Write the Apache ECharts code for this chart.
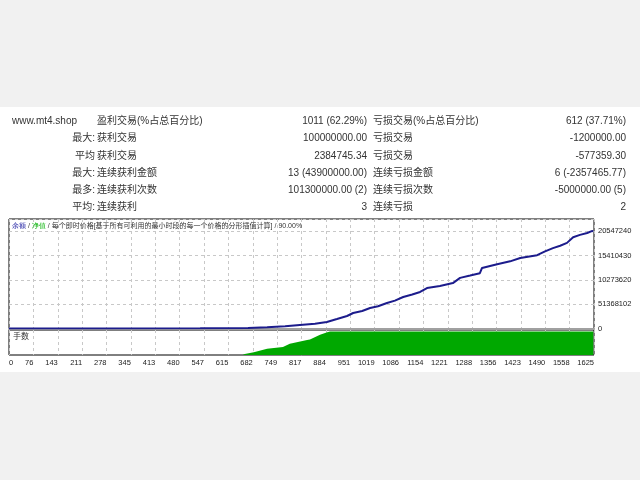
<!DOCTYPE html>
<html>
<head>
<meta charset="utf-8">
<script src="https://cdn.jsdelivr.net/npm/echarts@6/dist/echarts.min.js"></script>
<style>
html,body{margin:0;padding:0;width:640px;height:480px;overflow:hidden;
background:linear-gradient(#f1f1f1 0,#f1f1f1 107px,#ffffff 107px,#ffffff 372px,#f1f1f1 372px);}
#c{width:640px;height:480px;}
</style>
</head>
<body>
<div id="c"></div>
<script>
// ---- data ----
var xTickLabels = ['0','76','143','211','278','345','413','480','547','615','682','749','817','884','951','1019','1086','1154','1221','1288','1356','1423','1490','1558','1625'];
var yTickLabels = ['0','51368102','10273620','15410430','20547240'];
var yTickStep = 5136810;
var balanceTrades = [0,253,531,664,717,767,808,850,883,911,939,956,981,1003,1025,1050,1072,1095,1120,1142,1161,1197,1233,1253,1281,1308,1314,1356,1392,1420,1467,1489,1511,1531,1550,1567,1586,1606,1617,1623];
var balanceValues = [10000,20000,50000,130000,280000,480000,740000,1000000,1370000,2000000,2640000,3280000,3700000,4330000,4700000,5390000,5900000,6660000,7200000,7720000,8560000,9000000,9600000,10700000,11200000,11700000,12800000,13600000,14200000,14900000,15500000,16300000,17000000,17500000,18100000,19300000,19800000,20200000,20550000,20600000];
var lotTrades = [0,649,655,680,717,761,780,828,836,864,884,892,1623];
var lotValues = [0,0,2,6,13,17,24,32,33,43,48,50,50];
var rowPrefix = ['www.mt4.shop','最大:','平均','最大:','最多:','平均:'];
var col1Labels = ['盈利交易(%占总百分比)','获利交易','获利交易','连续获利金额','连续获利次数','连续获利'];
var col1Values = ['1011 (62.29%)','100000000.00','2384745.34','13 (43900000.00)','101300000.00 (2)','3'];
var col2Labels = ['亏损交易(%占总百分比)','亏损交易','亏损交易','连续亏损金额','连续亏损次数','连续亏损'];
var col2Values = ['612 (37.71%)','-1200000.00','-577359.30','6 (-2357465.77)','-5000000.00 (5)','2'];
var chartTitleParts = ['余额','净值','每个即时价格[基于所有可利用的最小时段的每一个价格的分形插值计算] / 90.00%'];
var lotPanelLabel = '手数';

// ---- build ----
var FONT = "'Liberation Sans','Noto Sans CJK SC',sans-serif";
var NUMFONT = "'Liberation Sans',sans-serif";
var xMax = 1625, xInterval = xMax / 24;
var rowY = [121,138,156,173,190,207];

function txt(text, x, y, align){
  return {type:'text', x:x, y:y, silent:true,
    style:{text:text, fill:'#333', font:'10px ' + FONT,
      align:align, verticalAlign:'middle', textAlign:align, textVerticalAlign:'middle'}};
}
var g = [];
for (var i = 0; i < rowY.length; i++) {
  if (i === 0) g.push(txt(rowPrefix[i], 12, rowY[i], 'left'));
  else g.push(txt(rowPrefix[i], 95, rowY[i], 'right'));
  g.push(txt(col1Labels[i], 97, rowY[i], 'left'));
  g.push(txt(col1Values[i], 367, rowY[i], 'right'));
  g.push(txt(col2Labels[i], 373, rowY[i], 'left'));
  g.push(txt(col2Values[i], 626, rowY[i], 'right'));
}
g.push({type:'text', x:12, y:226, silent:true, z:10,
  style:{text:'{a|' + chartTitleParts[0] + '} / {b|' + chartTitleParts[1] + '} / ' + chartTitleParts[2],
    fill:'#333', font:'7px ' + FONT, verticalAlign:'middle', textVerticalAlign:'middle',
    rich:{a:{fill:'#1a1aa0', color:'#1a1aa0', fontSize:7}, b:{fill:'#00b000', color:'#00b000', fontSize:7}}}});
g.push({type:'text', x:13, y:337, silent:true, z:10,
  style:{text:lotPanelLabel, fill:'#333', font:'8px ' + FONT, verticalAlign:'middle', textVerticalAlign:'middle'}});

var splitStyle = {show:true, lineStyle:{color:'#c8c8c8', type:[3,3], width:1}};

var option = {
  animation:false,
  backgroundColor:'transparent',
  grid:[
    {left:9, right:46, top:219, height:109.5, show:true, borderColor:'#000', borderWidth:1, backgroundColor:'#fff'},
    {left:9, right:46, top:330, height:25, show:true, borderColor:'#000', borderWidth:1, backgroundColor:'#fff'}
  ],
  xAxis:[
    {type:'value', gridIndex:0, min:0, max:xMax, interval:xInterval,
     axisLine:{show:true, onZero:false, lineStyle:{color:'#a0a0a0', width:2}},
     axisTick:{show:false}, axisLabel:{show:false}, splitLine:splitStyle},
    {type:'value', gridIndex:1, min:0, max:xMax, interval:xInterval,
     axisLine:{show:false}, axisTick:{show:false}, splitLine:splitStyle,
     axisLabel:{show:true, align:'right', alignMinLabel:'left', margin:4, fontSize:7.5, color:'#222', fontFamily:NUMFONT,
       formatter:function(v){ var k = Math.round(v / xInterval); return xTickLabels[k] !== undefined ? xTickLabels[k] : ''; }}}
  ],
  yAxis:[
    {type:'value', gridIndex:0, position:'right', min:0, max:23150000, interval:yTickStep,
     axisLine:{show:false}, axisTick:{show:false}, splitLine:splitStyle,
     axisLabel:{show:true, margin:4, fontSize:7.5, color:'#222', fontFamily:NUMFONT,
       formatter:function(v){ var k = Math.round(v / yTickStep); return (Math.abs(v - k*yTickStep) < 1 && yTickLabels[k] !== undefined) ? yTickLabels[k] : ''; }}},
    {type:'value', gridIndex:1, min:0, max:53, show:false, splitLine:{show:false}}
  ],
  series:[
    {type:'line', xAxisIndex:1, yAxisIndex:1, symbol:'none', silent:true,
     data:lotTrades.map(function(t,i){return [t, lotValues[i]];}),
     lineStyle:{width:0, color:'#00a800'}, areaStyle:{color:'#00a800', opacity:1}},
    {type:'line', xAxisIndex:0, yAxisIndex:0, symbol:'none', silent:true, z:5,
     data:balanceTrades.map(function(t,i){return [t, balanceValues[i]];}),
     lineStyle:{width:2, color:'#1c1c8c'}}
  ],
  graphic:g
};
var chart = echarts.init(document.getElementById('c'), null, {renderer:'canvas'});
chart.setOption(option);
</script>
</body>
</html>
